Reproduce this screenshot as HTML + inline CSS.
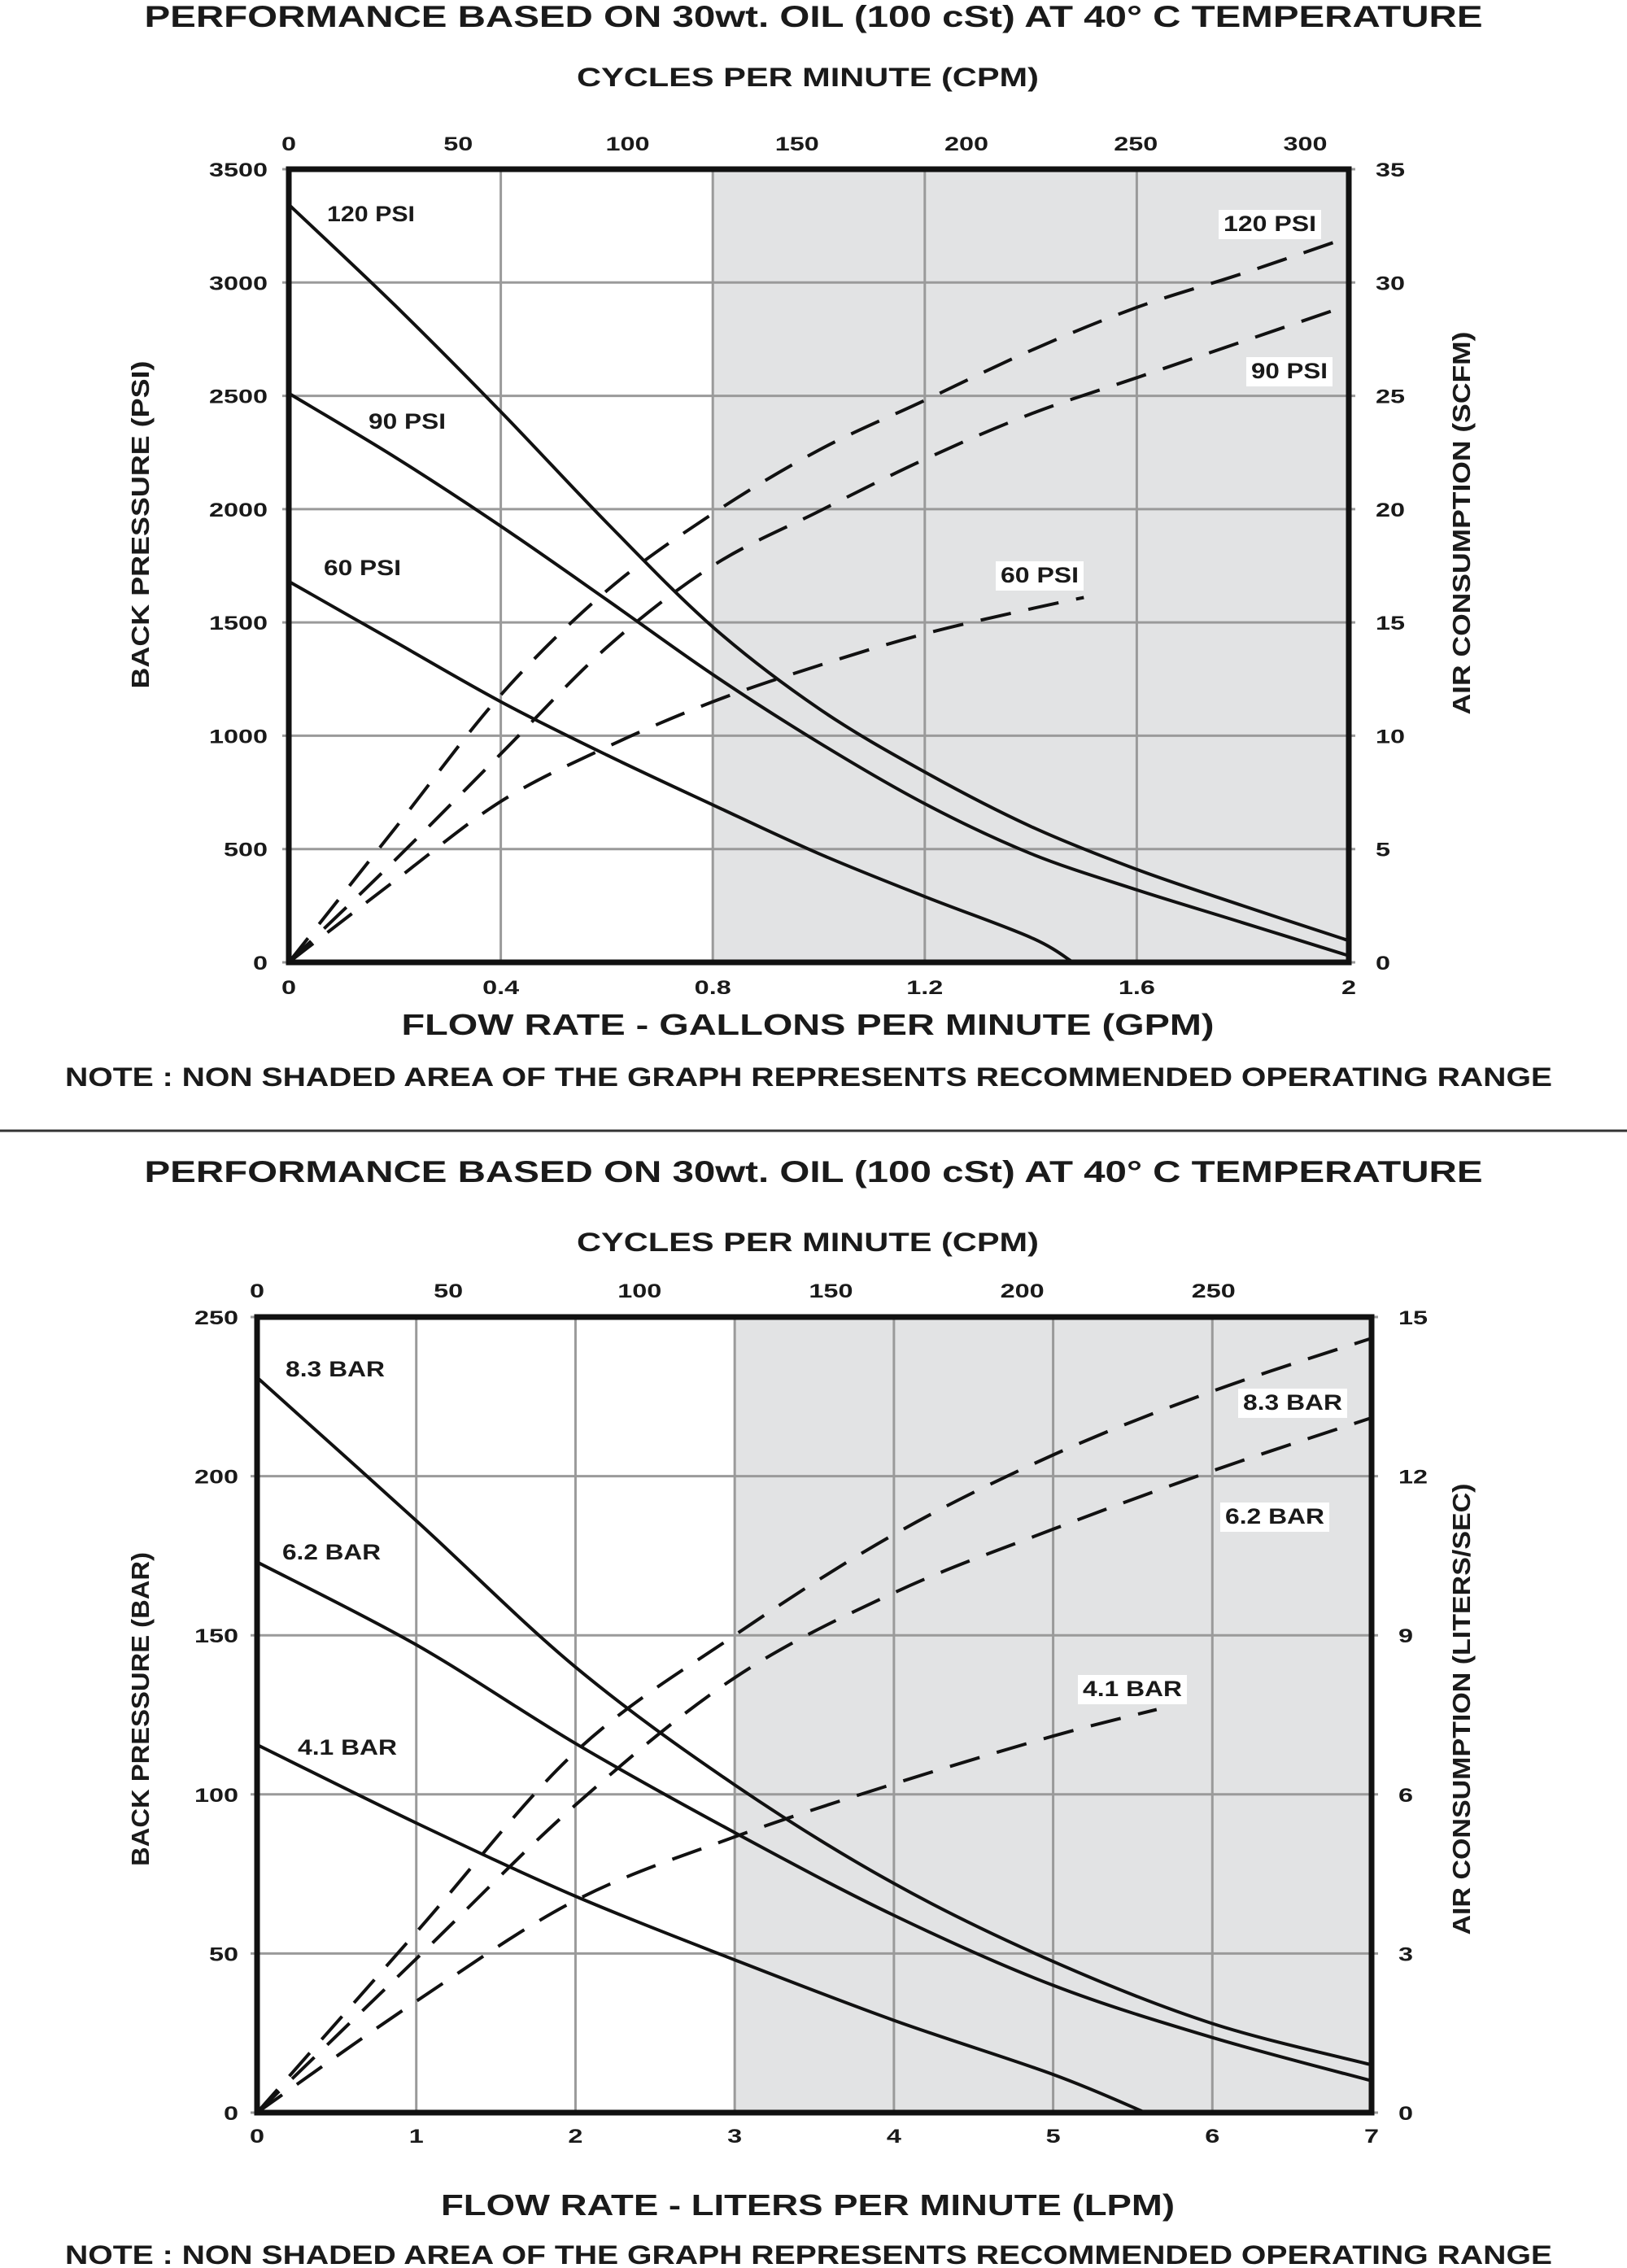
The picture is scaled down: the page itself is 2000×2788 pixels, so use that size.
<!DOCTYPE html>
<html><head><meta charset="utf-8"><style>
html,body{margin:0;padding:0;background:#fff;}
svg{display:block;}
text{font-family:"Liberation Sans",sans-serif;font-weight:bold;fill:#1a1a1a;}
</style></head>
<body>
<svg id="page" width="2000" height="2788" viewBox="0 0 2000 2788" xmlns="http://www.w3.org/2000/svg">
<line x1="0" y1="1390" x2="2000" y2="1390" stroke="#333" stroke-width="3"/>
</svg>
<script>
// ---------- Chart 1 data (GPM / PSI / SCFM) ----------
const gpmTicks = [0, 0.4, 0.8, 1.2, 1.6, 2];
const gpmTickLabels = ["0", "0.4", "0.8", "1.2", "1.6", "2"];
const psiTicks = [0, 500, 1000, 1500, 2000, 2500, 3000, 3500];
const scfmTicks = [0, 5, 10, 15, 20, 25, 30, 35];
const cpmTicks1 = [0, 50, 100, 150, 200, 250, 300];
const gpmX = [0, 0.2, 0.4, 0.6, 0.8, 1.0, 1.2, 1.4, 1.6, 1.8, 2.0];
const psi120 = [3344, 2900, 2430, 1940, 1480, 1120, 840, 600, 410, 250, 96];
const psi90 = [2511, 2230, 1925, 1600, 1270, 970, 700, 480, 320, 175, 29];
const gpmX60 = [0, 0.2, 0.4, 0.6, 0.8, 1.0, 1.2, 1.4, 1.48];
const psi60 = [1681, 1415, 1150, 915, 695, 480, 290, 110, 0];
const air120 = [0, 5.9, 11.8, 16.4, 19.8, 22.6, 24.8, 27, 28.9, 30.4, 32];
const air90 = [0, 4.5, 9.2, 13.9, 17.5, 19.9, 22.2, 24.2, 25.8, 27.4, 29];
const gpmXAir60 = [0, 0.2, 0.4, 0.6, 0.8, 1.0, 1.2, 1.4, 1.5];
const air60 = [0, 3.6, 7.1, 9.5, 11.5, 13.1, 14.5, 15.6, 16.1];

// ---------- Chart 2 data (LPM / BAR / L/s) ----------
const lpmTicks = [0, 1, 2, 3, 4, 5, 6, 7];
const barTicks = [0, 50, 100, 150, 200, 250];
const lpsTicks = [0, 3, 6, 9, 12, 15];
const cpmTicks2 = [0, 50, 100, 150, 200, 250];
const lpmX = [0, 1, 2, 3, 4, 5, 6, 7];
const bar83 = [231, 186, 140, 103, 72, 47.5, 28, 15];
const bar62 = [173, 147, 116, 88, 62, 40, 23.6, 10];
const lpmX41 = [0, 1, 2, 3, 4, 5, 5.58];
const bar41 = [115.6, 91, 68, 48, 29, 12, 0];
const lps83 = [0, 3.4, 6.8, 9.0, 10.9, 12.4, 13.6, 14.6];
const lps62 = [0, 2.9, 5.8, 8.2, 9.8, 11, 12.1, 13.1];
const lpmXAir41 = [0, 1, 2, 3, 4, 5, 5.65];
const lps41 = [0, 2.1, 4.0, 5.2, 6.2, 7.1, 7.6];

const NS = "http://www.w3.org/2000/svg";
const svg = document.getElementById("page");

function mk(tag, attrs, parent) {
  const e = document.createElementNS(NS, tag);
  for (const k in attrs) e.setAttribute(k, attrs[k]);
  (parent || svg).appendChild(e);
  return e;
}
function txt(str, x, y, size, anchor, sx, parent) {
  const t = mk("text", {"font-size": size, "text-anchor": anchor || "middle",
    transform: "translate(" + x + "," + y + ") scale(" + (sx || 1) + ",1)"}, parent);
  t.textContent = str;
  return t;
}
function smoothPath(pts) {
  let d = "M" + pts[0][0].toFixed(1) + "," + pts[0][1].toFixed(1);
  for (let i = 0; i < pts.length - 1; i++) {
    const p0 = pts[i - 1] || pts[i], p1 = pts[i], p2 = pts[i + 1], p3 = pts[i + 2] || p2;
    const c1 = [p1[0] + (p2[0] - p0[0]) / 6, p1[1] + (p2[1] - p0[1]) / 6];
    const c2 = [p2[0] - (p3[0] - p1[0]) / 6, p2[1] - (p3[1] - p1[1]) / 6];
    d += " C" + c1.map(v => v.toFixed(1)).join(",") + " " + c2.map(v => v.toFixed(1)).join(",") + " " + p2[0].toFixed(1) + "," + p2[1].toFixed(1);
  }
  return d;
}

function chart(cfg) {
  const g = mk("g", {});
  
  
  const {L, R, T, B} = cfg;
  const xs = v => L + (v - cfg.xMin) / (cfg.xMax - cfg.xMin) * (R - L);
  const ys = v => B - v / cfg.yMax * (B - T);
  const ys2 = v => B - v / cfg.y2Max * (B - T);
  const cs = v => L + v * cfg.cpmPx;

  const t1 = txt(cfg.title, 1000, cfg.titleY, 37, "middle", 1, g);
  t1.setAttribute("textLength", 1645); t1.setAttribute("lengthAdjust", "spacingAndGlyphs");
  
  
  const t2 = txt("CYCLES PER MINUTE (CPM)", 993, cfg.cpmTitleY, 32, "middle", 1, g);
  t2.setAttribute("textLength", 568); t2.setAttribute("lengthAdjust", "spacingAndGlyphs");
  
  

  const sh = mk("rect", {x: xs(cfg.shadeFrom), y: T, width: R - xs(cfg.shadeFrom), height: B - T, fill: "#e2e3e4"}, g);
  
  

  cfg.xTicks.forEach((v, i) => {
    const l = mk("line", {x1: xs(v), x2: xs(v), y1: T, y2: B, stroke: "#9a9a9a", "stroke-width": 3}, g);
    
    
    const lb = txt(cfg.xTickLabels[i], xs(v), cfg.xTickY, 24, "middle", 1.35, g);
    
    
  });
  cfg.yTicks.forEach(v => {
    const l = mk("line", {x1: L - 8, x2: R + 8, y1: ys(v), y2: ys(v), stroke: "#9a9a9a", "stroke-width": 3}, g);
    
    
    const lb = txt(String(v), cfg.yLabX, ys(v) + 9, 24, "end", 1.35, g);
    
    
  });
  cfg.y2Ticks.forEach(v => {
    const lb = txt(String(v), cfg.y2LabX, ys2(v) + 9, 24, "start", 1.35, g);
    
    
  });
  cfg.cpmTicks.forEach(v => {
    const lb = txt(String(v), cs(v), cfg.cpmTickY, 24, "middle", 1.35, g);
    
    
  });

  cfg.solid.forEach(s => {
    const p = mk("path", {d: smoothPath(s.x.map((v, i) => [xs(v), ys(s.y[i])])), fill: "none", stroke: "#111", "stroke-width": 4}, g);
    
    
  });
  cfg.dashed.forEach(s => {
    const p = mk("path", {d: smoothPath(s.x.map((v, i) => [xs(v), ys2(s.y[i])])), fill: "none", stroke: "#111", "stroke-width": 4, "stroke-dasharray": "38 22"}, g);
    
    
  });

  const fr = mk("rect", {x: L, y: T, width: R - L, height: B - T, fill: "none", stroke: "#111", "stroke-width": 7}, g);
  
  

  cfg.labels.forEach(lb => {
    if (lb.box) {
      const b = mk("rect", {x: lb.x - 6, y: lb.y - 26, width: lb.w + 12, height: 36, fill: "#fff"}, g);
      
      
    }
    const t = txt(lb.t, lb.x, lb.y, 27, "start", 1, g);
    t.setAttribute("textLength", lb.w); t.setAttribute("lengthAdjust", "spacingAndGlyphs");
    
    
  });

  const xt = txt(cfg.xTitle, cfg.xTitleCx, cfg.xTitleY, 36, "middle", 1, g);
  xt.setAttribute("textLength", cfg.xTitleW); xt.setAttribute("lengthAdjust", "spacingAndGlyphs");
  
  
  const yt = mk("text", {"font-size": 31, "text-anchor": "middle", transform: "translate(183," + cfg.yTitleCy + ") rotate(-90)", textLength: cfg.yTitleW, lengthAdjust: "spacingAndGlyphs"}, g);
  yt.textContent = cfg.yTitle;
  
  
  const y2t = mk("text", {"font-size": 31, "text-anchor": "middle", transform: "translate(1807," + cfg.y2TitleCy + ") rotate(-90)", textLength: cfg.y2TitleW, lengthAdjust: "spacingAndGlyphs"}, g);
  y2t.textContent = cfg.y2Title;
  
  
  const nt = txt("NOTE : NON SHADED AREA OF THE GRAPH REPRESENTS RECOMMENDED OPERATING RANGE", 994, cfg.noteY, 32, "middle", 1, g);
  nt.setAttribute("textLength", 1828); nt.setAttribute("lengthAdjust", "spacingAndGlyphs");
  
  
}

chart({
  name: "gpm-performance-chart",
  title: "PERFORMANCE  BASED ON 30wt. OIL (100 cSt) AT 40° C TEMPERATURE",
  titleY: 33, cpmTitleY: 106, cpmTickY: 185, xTickY: 1222,
  L: 355, R: 1658, T: 208, B: 1183,
  xMin: 0, xMax: 2, yMax: 3500, y2Max: 35, cpmPx: 4.165, shadeFrom: 0.8,
  xTicks: gpmTicks, xTickLabels: gpmTickLabels, yTicks: psiTicks, y2Ticks: scfmTicks, cpmTicks: cpmTicks1,
  yLabX: 329, y2LabX: 1691,
  solid: [{name: "back-pressure-120psi", x: gpmX, y: psi120}, {name: "back-pressure-90psi", x: gpmX, y: psi90}, {name: "back-pressure-60psi", x: gpmX60, y: psi60}],
  dashed: [{name: "air-consumption-120psi", x: gpmX, y: air120}, {name: "air-consumption-90psi", x: gpmX, y: air90}, {name: "air-consumption-60psi", x: gpmXAir60, y: air60}],
  labels: [
    {t: "120 PSI", x: 402, y: 272, w: 108}, {t: "90 PSI", x: 453, y: 527, w: 95}, {t: "60 PSI", x: 398, y: 707, w: 95},
    {t: "120 PSI", x: 1504, y: 284, w: 114, box: true}, {t: "90 PSI", x: 1538, y: 465, w: 94, box: true}, {t: "60 PSI", x: 1230, y: 716, w: 96, box: true}
  ],
  xTitle: "FLOW RATE - GALLONS PER MINUTE (GPM)", xTitleCx: 993, xTitleY: 1272, xTitleW: 999,
  yTitle: "BACK PRESSURE  (PSI)", yTitleCy: 645, yTitleW: 403,
  y2Title: "AIR CONSUMPTION  (SCFM)", y2TitleCy: 643, y2TitleW: 471,
  noteY: 1335
});

chart({
  name: "lpm-performance-chart",
  title: "PERFORMANCE  BASED ON 30wt. OIL (100 cSt) AT 40° C TEMPERATURE",
  titleY: 1453, cpmTitleY: 1538, cpmTickY: 1595, xTickY: 2634,
  L: 316, R: 1686, T: 1619, B: 2597,
  xMin: 0, xMax: 7, yMax: 250, y2Max: 15, cpmPx: 4.703, shadeFrom: 3,
  xTicks: lpmTicks, xTickLabels: lpmTicks.map(String), yTicks: barTicks, y2Ticks: lpsTicks, cpmTicks: cpmTicks2,
  yLabX: 293, y2LabX: 1719,
  solid: [{name: "back-pressure-8.3bar", x: lpmX, y: bar83}, {name: "back-pressure-6.2bar", x: lpmX, y: bar62}, {name: "back-pressure-4.1bar", x: lpmX41, y: bar41}],
  dashed: [{name: "air-consumption-8.3bar", x: lpmX, y: lps83}, {name: "air-consumption-6.2bar", x: lpmX, y: lps62}, {name: "air-consumption-4.1bar", x: lpmXAir41, y: lps41}],
  labels: [
    {t: "8.3 BAR", x: 351, y: 1692, w: 122}, {t: "6.2 BAR", x: 347, y: 1917, w: 121}, {t: "4.1 BAR", x: 366, y: 2157, w: 122},
    {t: "8.3 BAR", x: 1528, y: 1733, w: 122, box: true}, {t: "6.2 BAR", x: 1506, y: 1873, w: 122, box: true}, {t: "4.1 BAR", x: 1331, y: 2085, w: 122, box: true}
  ],
  xTitle: "FLOW RATE - LITERS PER MINUTE (LPM)", xTitleCx: 993, xTitleY: 2723, xTitleW: 902,
  yTitle: "BACK PRESSURE  (BAR)", yTitleCy: 2101, yTitleW: 386,
  y2Title: "AIR CONSUMPTION  (LITERS/SEC)", y2TitleCy: 2101, y2TitleW: 555,
  noteY: 2783
});
</script>
</body></html>
